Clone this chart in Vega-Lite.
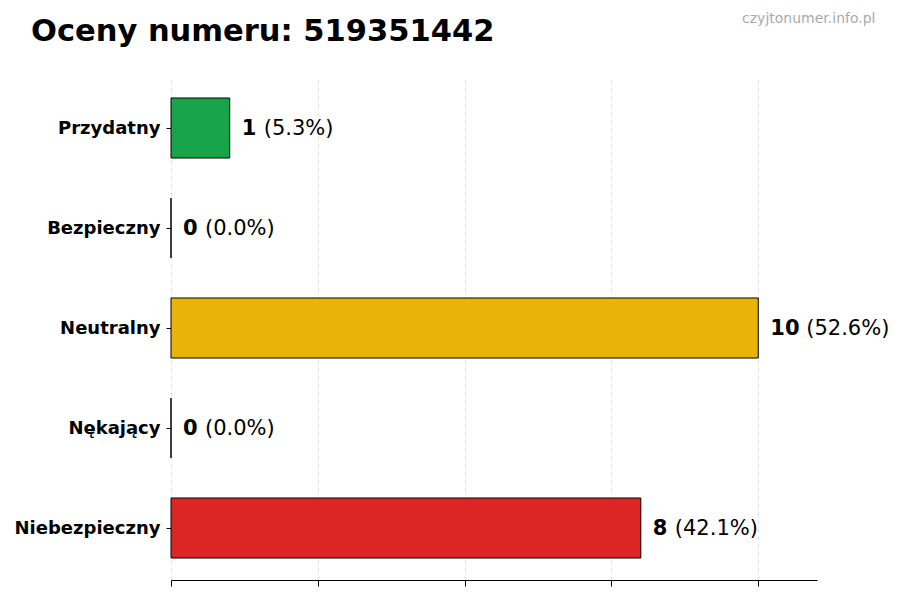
{
  "$schema": "https://vega.github.io/schema/vega-lite/v6.json",
  "width": 646,
  "height": 504,
  "autosize": {"type": "none"},
  "padding": {"left": 171, "top": 76, "right": 83, "bottom": 20},
  "background": "white",
  "config": {"view": {"stroke": null}, "font": "DejaVu Sans"},
  "title": {
    "text": "Oceny numeru: 519351442",
    "anchor": "start",
    "frame": "group",
    "dx": -140,
    "offset": -60,
    "baseline": "alphabetic",
    "fontSize": 30.5,
    "fontWeight": "bold",
    "color": "black"
  },
  "data": {
    "values": [
      {"rating": "Przydatny", "count": 1, "pct": "(5.3%)"},
      {"rating": "Bezpieczny", "count": 0, "pct": "(0.0%)"},
      {"rating": "Neutralny", "count": 10, "pct": "(52.6%)"},
      {"rating": "Nękający", "count": 0, "pct": "(0.0%)"},
      {"rating": "Niebezpieczny", "count": 8, "pct": "(42.1%)"}
    ]
  },
  "resolve": {"axis": {"x": "independent", "y": "independent"}},
  "encoding": {
    "y": {
      "field": "rating",
      "type": "nominal",
      "sort": ["Przydatny", "Bezpieczny", "Neutralny", "Nękający", "Niebezpieczny"],
      "scale": {"paddingInner": 0.4, "paddingOuter": 0.22}
    },
    "x": {
      "field": "count",
      "type": "quantitative",
      "scale": {"domain": [0, 11], "nice": false}
    }
  },
  "layer": [
    {
      "mark": {"type": "bar", "stroke": "black", "strokeWidth": 1},
      "encoding": {
        "y": {
          "field": "rating",
          "type": "nominal",
          "sort": ["Przydatny", "Bezpieczny", "Neutralny", "Nękający", "Niebezpieczny"],
          "axis": {
            "orient": "left",
            "title": null,
            "domain": false,
            "ticks": true,
            "tickSize": 5,
            "tickColor": "black",
            "labelPadding": 6,
            "labelFontSize": 18,
            "labelFontWeight": "bold",
            "labelColor": "black",
            "labelOffset": 1,
            "grid": false
          }
        },
        "x": {
          "field": "count",
          "type": "quantitative",
          "axis": {
            "orient": "bottom",
            "title": null,
            "labels": false,
            "values": [0, 2.5, 5, 7.5, 10],
            "tickSize": 6,
            "tickColor": "black",
            "domainColor": "black",
            "domainWidth": 1,
            "grid": true,
            "gridDash": [4, 4],
            "gridColor": "#d8d8d8",
            "gridWidth": 0.8
          }
        },
        "color": {
          "field": "rating",
          "type": "nominal",
          "scale": {
            "domain": ["Przydatny", "Bezpieczny", "Neutralny", "Nękający", "Niebezpieczny"],
            "range": ["#16a34a", "#0ea5e9", "#eab308", "#f97316", "#dc2626"]
          },
          "legend": null
        }
      }
    },
    {
      "mark": {"type": "text", "align": "left", "baseline": "middle", "dx": 12, "dy": 1, "fontSize": 21, "fontWeight": "bold", "color": "black"},
      "encoding": {
        "y": {"field": "rating", "type": "nominal", "sort": ["Przydatny", "Bezpieczny", "Neutralny", "Nękający", "Niebezpieczny"], "axis": null},
        "x": {"field": "count", "type": "quantitative", "axis": null},
        "text": {"field": "count", "type": "quantitative"}
      }
    },
    {
      "transform": [{"filter": "datum.count < 10"}],
      "mark": {"type": "text", "align": "left", "baseline": "middle", "dx": 34, "dy": 1, "fontSize": 21, "color": "black"},
      "encoding": {
        "y": {
          "field": "rating",
          "type": "nominal",
          "sort": ["Przydatny", "Bezpieczny", "Neutralny", "Nękający", "Niebezpieczny"],
          "axis": {
            "orient": "right",
            "title": "czyjtonumer.info.pl",
            "labels": false,
            "ticks": false,
            "domain": false,
            "grid": false,
            "titleAngle": 0,
            "titleX": 58,
            "titleY": -54,
            "titleAlign": "right",
            "titleBaseline": "alphabetic",
            "titleColor": "#aaaaaa",
            "titleFontSize": 14,
            "titleFontWeight": "normal"
          }
        },
        "x": {"field": "count", "type": "quantitative", "axis": null},
        "text": {"field": "pct", "type": "nominal"}
      }
    },
    {
      "transform": [{"filter": "datum.count >= 10"}],
      "mark": {"type": "text", "align": "left", "baseline": "middle", "dx": 48, "dy": 1, "fontSize": 21, "color": "black"},
      "encoding": {
        "y": {"field": "rating", "type": "nominal", "sort": ["Przydatny", "Bezpieczny", "Neutralny", "Nękający", "Niebezpieczny"], "axis": null},
        "x": {"field": "count", "type": "quantitative", "axis": null},
        "text": {"field": "pct", "type": "nominal"}
      }
    }
  ]
}
